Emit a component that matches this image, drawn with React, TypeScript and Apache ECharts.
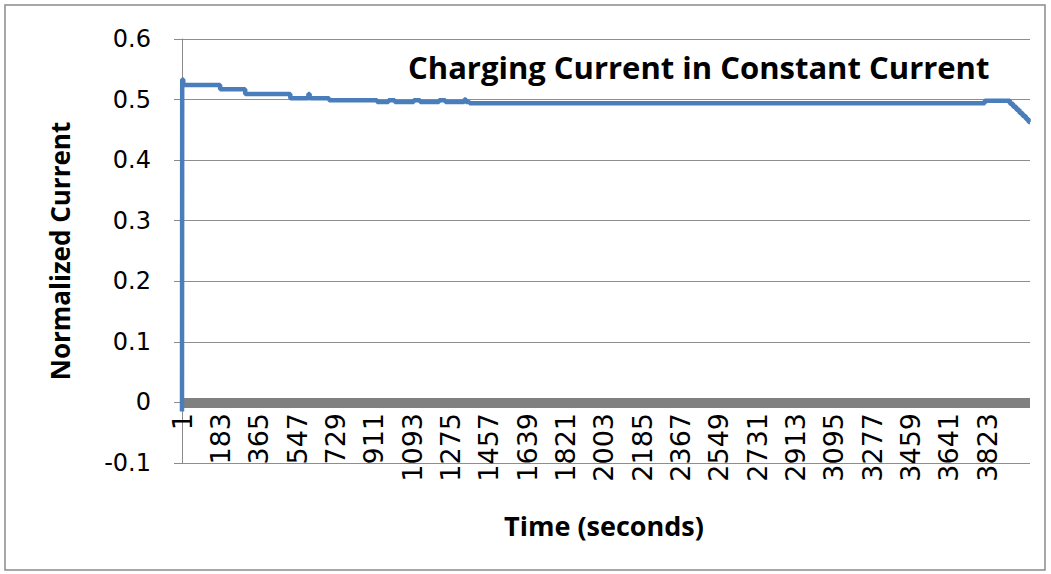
import React, { useEffect, useRef } from 'react';
import * as echarts from 'echarts';

// Step breakpoints: sample index (0-based, label = index + 1) where a new value starts
const sampleStarts = [0, 1, 6, 181, 300, 514, 600, 606, 698, 926, 980, 1010, 1100, 1130, 1220, 1250, 1340, 1348, 1365, 3810, 3930, 3945, 3960, 3975, 3990, 4005, 4018, 4025];
const currentValues = [-0.015, 0.533, 0.524, 0.517, 0.509, 0.502, 0.509, 0.502, 0.499, 0.496, 0.499, 0.496, 0.499, 0.496, 0.499, 0.496, 0.5, 0.496, 0.494, 0.498, 0.493, 0.488, 0.483, 0.478, 0.473, 0.468, 0.463, 0.463];

const titleText = 'Charging Current in Constant Current';
const xAxisName = 'Time (seconds)';
const yAxisName = 'Normalized Current';
const xTickStep = 182;
const xLastLabel = 3822;
const yMin = -0.1;
const yMax = 0.6;
const yStep = 0.1;

const FONT = '"Open Sans", "Noto Sans", sans-serif';
const NUM_FONT = '"DejaVu Sans", sans-serif';

export default function App() {
  const ref = useRef<HTMLDivElement>(null);
  useEffect(() => {
    if (!ref.current) return;
    const chart = echarts.init(ref.current, undefined, { renderer: 'svg' });
    const data = sampleStarts.map((s, i) => [s, currentValues[i]]);
    chart.setOption({
      animation: false,
      backgroundColor: '#ffffff',
      grid: { left: 182, right: 21, top: 39, bottom: 111, containLabel: false, outerBoundsMode: 'none' },
      graphic: [
        {
          type: 'rect',
          shape: { x: 5, y: 5, width: 1040, height: 565 },
          style: { fill: 'none', stroke: '#8a8a8a', lineWidth: 1.5 },
          silent: true,
        },
        {
          type: 'text',
          left: 408,
          top: 51,
          style: {
            text: titleText,
            font: `bold 31px ${FONT}`,
            fill: '#000',
          },
        },
        {
          type: 'text',
          x: 604,
          y: 525,
          style: {
            text: xAxisName,
            font: `bold 27px ${FONT}`,
            fill: '#000',
            align: 'center',
            verticalAlign: 'middle',
          },
        },
      ],
      xAxis: {
        type: 'value',
        min: 0,
        max: sampleStarts[sampleStarts.length - 1],
        interval: xTickStep,
        axisLine: { show: true, onZero: true, lineStyle: { color: '#808080', width: 10, cap: 'butt' } },
        axisTick: { show: false },
        splitLine: { show: false },
        axisLabel: {
          rotate: 90,
          margin: -50,
          fontSize: 27,
          fontFamily: NUM_FONT,
          color: '#000',
          showMaxLabel: false,
          formatter: (v: number) => (v > xLastLabel ? '' : String(Math.round(v) + 1)),
        },
      },
      yAxis: {
        type: 'value',
        min: yMin,
        max: yMax,
        interval: yStep,
        name: yAxisName,
        nameLocation: 'middle',
        nameGap: 109,
        nameRotate: 90,
        nameTextStyle: { fontFamily: FONT, fontWeight: 'bold', fontSize: 26, color: '#000' },
        axisLine: { show: true, onZero: false, lineStyle: { color: '#8a8a8a', width: 1 } },
        axisTick: { show: true, length: 8, lineStyle: { color: '#8a8a8a' } },
        splitLine: { show: true, lineStyle: { color: '#8e8e8e', width: 1 } },
        axisLabel: {
          margin: 31,
          fontSize: 24,
          fontFamily: NUM_FONT,
          color: '#000',
          formatter: (v: number) => String(Math.round(v * 10) / 10),
        },
      },
      series: [
        {
          type: 'line',
          step: 'end',
          data,
          showSymbol: false,
          lineStyle: { color: '#4A7EBB', width: 4.5 },
          itemStyle: { color: '#4A7EBB' },
          z: 5,
        },
      ],
    });
    return () => chart.dispose();
  }, []);
  return (
    <div
      ref={ref}
      style={{ position: 'fixed', left: 0, top: 0, width: 1051, height: 574 }}
    />
  );
}
